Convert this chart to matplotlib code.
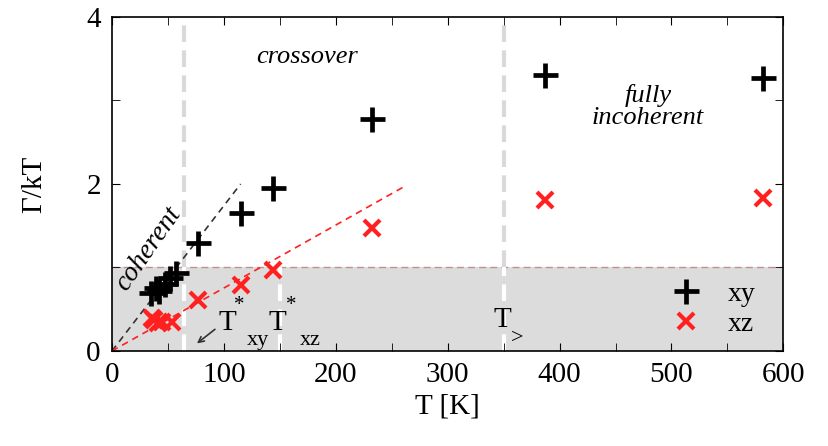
import matplotlib
matplotlib.use("Agg")
import matplotlib.pyplot as plt
import numpy as np

plt.rcParams['font.family'] = ['Liberation Serif', 'DejaVu Serif']

# data
T_xy = [35, 39, 42, 47, 52, 57, 77, 115, 144, 232, 387, 582]
G_xy = [0.70, 0.75, 0.72, 0.80, 0.87, 0.93, 1.29, 1.65, 1.95, 2.78, 3.31, 3.27]
T_xz = [36, 38, 41, 45, 54, 77, 115, 144, 232, 387, 582]
G_xz = [0.40, 0.37, 0.34, 0.35, 0.35, 0.61, 0.79, 0.97, 1.47, 1.81, 1.83]
coh_xy_T = [0, 115]
coh_xy_G = [0, 2.0]
coh_xz_T = [0, 260]
coh_xz_G = [0, 1.96]
T_marks = [64, 150, 350]

fig = plt.figure(figsize=(8.29, 4.46), dpi=100)
ax = fig.add_axes([0.135, 0.213, 0.81, 0.749])
ax.set_xlim(0, 600)
ax.set_ylim(0, 4)

ax.axhspan(0, 1, color='#dcdcdc', zorder=0, lw=0)
ax.axhline(1, color='#c09090', ls=(0, (5, 3)), lw=1, zorder=1)

# vertical guide lines
for i, t in enumerate(T_marks):
    if i != 1:
        ax.plot([t, t], [1, 4], color='#d9d9d9', lw=3, ls=(0, (4, 2)), zorder=1)
    ax.plot([t, t], [0, 1], color='white', lw=3, ls=(0, (4, 2)), zorder=1)

ax.plot(coh_xy_T, coh_xy_G, color='#333333', ls=(0, (4, 3)), lw=1.2, zorder=2)
ax.plot(coh_xz_T, coh_xz_G, color='#ff2020', ls=(0, (4, 3)), lw=1.2, zorder=2)

ax.plot(T_xy, G_xy, ls='none', marker='+', ms=18, mew=3.4, color='black', label='xy', zorder=3)
ax.plot(T_xz, G_xz, ls='none', marker='x', ms=12, mew=3.0, color='#ff2020', label='xz', zorder=3)

ax.set_xticks(range(0, 601, 100))
ax.set_xticks(range(50, 600, 100), minor=True)
ax.set_yticks([0, 2, 4])
ax.set_yticks([1, 3], minor=True)
ax.tick_params(which='both', direction='in', top=True, right=True, labelsize=21, pad=8)
ax.tick_params(which='major', length=6)
ax.tick_params(which='minor', length=6)
for s in ax.spines.values():
    s.set_linewidth(1.2)

ax.set_xlabel('T [K]', fontsize=21, labelpad=4)
ax.set_ylabel('Γ/kT', fontsize=21, labelpad=28)

ax.text(174, 3.52, 'crossover', style='italic', fontsize=19, ha='center', va='center')
ax.text(479, 2.93, 'fully\nincoherent', style='italic', fontsize=19, ha='center', va='center',
        linespacing=1.0)
ax.text(33, 1.22, 'coherent', style='italic', fontsize=20, ha='center', va='center', rotation=55)

ax.text(103, 0.34, 'T', fontsize=21, ha='center', va='center')
ax.text(113.5, 0.55, '*', fontsize=15, ha='center', va='center')
ax.text(130.5, 0.13, 'xy', fontsize=16, ha='center', va='center')
ax.text(147.5, 0.34, 'T', fontsize=21, ha='center', va='center')
ax.text(160, 0.55, '*', fontsize=15, ha='center', va='center')
ax.text(177, 0.13, 'xz', fontsize=16, ha='center', va='center')
ax.text(349, 0.37, 'T', fontsize=21, ha='center', va='center')
ax.text(362, 0.15, '>', fontsize=16, ha='center', va='center')

ax.annotate('', xy=(74, 0.07), xytext=(94, 0.28),
            arrowprops=dict(arrowstyle='->', color='#333333', lw=1.2))

leg = ax.legend(loc='lower right', frameon=False, fontsize=20, handlelength=1.0,
                borderaxespad=0.0, labelspacing=0.15, handletextpad=1.0,
                bbox_to_anchor=(0.975, 0.01))

fig.savefig('out.png', dpi=100)
